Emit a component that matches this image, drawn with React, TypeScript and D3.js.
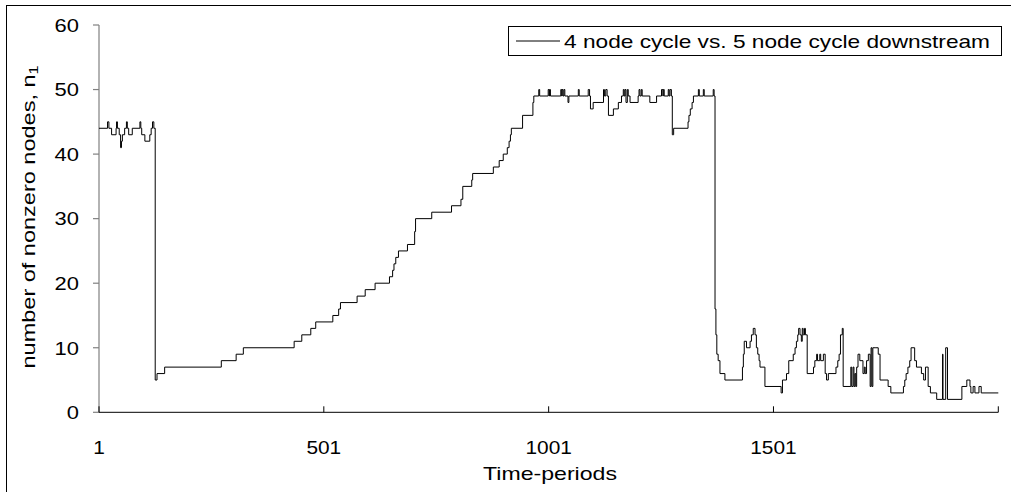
import React from 'react';
import * as d3 from 'd3';

// step series: value changes at these time-periods
const changeTimes = [
  1, 20, 23, 29, 39, 40, 42, 46, 49, 51, 53, 58, 62, 64, 67, 75, 92, 94, 96, 103, 114, 117, 120, 123,
  126, 130, 147, 273, 306, 322, 435, 452, 472, 483, 521, 534, 538, 575, 593, 615, 647, 654, 657, 661, 667,
  687, 703, 705, 741, 785, 806, 810, 830, 832, 878, 891, 900, 909, 913, 916, 918, 943, 966, 968,
  979, 981, 1000, 1002, 1003, 1005, 1028, 1030, 1031, 1033, 1035, 1037, 1044, 1046, 1067, 1069, 1089, 1092,
  1094, 1100, 1123, 1125, 1128, 1131, 1134, 1145, 1156, 1163, 1167, 1169, 1171, 1173, 1176, 1178, 1182,
  1200, 1202, 1204, 1207, 1209, 1226, 1241, 1252, 1255, 1256, 1258, 1267, 1269, 1271, 1274, 1276, 1279,
  1311, 1313, 1316, 1320, 1323, 1334, 1336, 1345, 1347, 1367, 1369,
  1371, 1373, 1375, 1378, 1382, 1393, 1432, 1434, 1436, 1441, 1449, 1452, 1456, 1460, 1463, 1466, 1469,
  1471, 1482, 1518, 1521, 1530, 1535, 1545, 1549, 1552, 1555, 1557, 1560, 1563, 1565, 1567, 1570, 1572,
  1576, 1590, 1593, 1597, 1599, 1604, 1606, 1612, 1616, 1619, 1623, 1640, 1644, 1647, 1650, 1654, 1656,
  1673, 1675, 1678, 1680, 1682, 1684, 1686, 1689, 1693, 1700, 1703, 1705, 1708, 1712, 1716, 1718, 1720,
  1722, 1727, 1734, 1738, 1756, 1762, 1790, 1793, 1796, 1800, 1804, 1807, 1815, 1819, 1830, 1835, 1839,
  1845, 1850, 1864, 1877, 1878, 1884, 1888, 1920, 1931, 1938, 1940, 1945, 1949, 1958, 1963,
];
const changeValues = [
  44, 45, 44, 43, 44, 45, 44, 43, 41, 42, 43, 44, 45, 44, 43, 44, 45, 44, 43, 42, 43, 44, 45, 44,
  5, 6, 7, 8, 9, 10, 11, 12, 13, 14, 15, 16, 17, 18, 19, 20, 21, 22, 23, 24, 25,
  26, 28, 30, 31, 32, 33, 35, 36, 37, 38, 39, 40, 41, 42, 43, 44, 46, 48, 49,
  50, 49, 50, 49, 50, 49, 50, 49, 50, 49, 50, 49, 48, 49, 50, 49, 50, 49,
  47, 48, 50, 49, 50, 49, 46, 47, 48, 49, 50, 49, 50, 48, 50, 49, 48,
  49, 50, 49, 50, 49, 48, 49, 50, 49, 50, 49, 50, 49, 50, 49, 43, 44,
  45, 46, 47, 48, 49, 50, 49, 50, 49, 50, 49,
  16, 12, 9, 8, 6, 5, 7, 9, 11, 10, 11, 12, 13, 12, 10, 9, 8,
  7, 4, 3, 5, 6, 8, 9, 10, 11, 12, 13, 12, 11, 13, 12, 13, 12,
  6, 7, 8, 9, 8, 9, 8, 9, 6, 5, 6, 7, 8, 9, 12, 13, 4,
  7, 4, 7, 4, 6, 4, 7, 9, 8, 6, 7, 6, 8, 9, 4, 10, 4,
  10, 10, 9, 5, 4, 3, 4, 5, 6, 7, 8, 10, 8, 7, 6, 5, 7,
  4, 3, 2, 9, 2, 10, 2, 4, 5, 4, 3, 4, 3, 4, 3,
];
const lastPeriod = 2001;

const xTickValues = [1, 501, 1001, 1501, 2001];
const xTickLabels = ['1', '501', '1001', '1501', ''];
const yTickValues = [0, 10, 20, 30, 40, 50, 60];

const seriesName = '4 node cycle vs. 5 node cycle downstream';
const xTitle = 'Time-periods';
const yTitle = 'number of nonzero nodes, n';
const yTitleSub = '1';

const FONT = 'Liberation Sans, Arial, Helvetica, sans-serif';

export default function App() {
  const W = 1011;
  const H = 492;
  const x = d3.scaleLinear().domain([1, 2001]).range([99, 998.3]);
  const y = d3.scaleLinear().domain([0, 60]).range([412.3, 25]);

  const pts: [number, number][] = changeTimes.map((t, i) => [t, changeValues[i]]);
  pts.push([lastPeriod, changeValues[changeValues.length - 1]]);
  const line = d3
    .line<[number, number]>()
    .x((d) => x(d[0]))
    .y((d) => y(d[1]))
    .curve(d3.curveStepAfter);

  const x0 = x(1);
  const y0 = y(0);

  return (
    <svg
      width={W}
      height={H}
      style={{ position: 'absolute', left: 0, top: 0, background: '#fff' }}
      fontFamily={FONT}
    >
      <rect x={0} y={0} width={W} height={H} fill="#fff" />
      <rect x={6.5} y={5.5} width={W + 10} height={H + 10} fill="none" stroke="#000" strokeWidth={1} />

      {/* y axis */}
      <line x1={x0} x2={x0} y1={y(60)} y2={y0} stroke="#808080" strokeWidth={1.2} />
      {yTickValues.map((v) => (
        <g key={'yt' + v}>
          <line x1={x0 - 6} x2={x0} y1={y(v)} y2={y(v)} stroke="#808080" strokeWidth={1.2} />
          <text
            x={79}
            y={y(v) + 6.8}
            fontSize={19}
            textAnchor="end"
            textLength={String(v).length * 12.2}
            lengthAdjust="spacingAndGlyphs"
            fill="#000"
          >
            {v}
          </text>
        </g>
      ))}

      {/* x axis */}
      <line x1={x0} x2={x(2001)} y1={y0} y2={y0} stroke="#000" strokeWidth={1} />
      {xTickValues.map((t, i) => (
        <g key={'xt' + t}>
          <line x1={x(t)} x2={x(t)} y1={y0 - 6} y2={y0} stroke="#000" strokeWidth={1} />
          {xTickLabels[i] && (
            <text
              x={x(t)}
              y={454}
              fontSize={19}
              textAnchor="middle"
              textLength={xTickLabels[i].length * 11.6}
              lengthAdjust="spacingAndGlyphs"
              fill="#000"
            >
              {xTickLabels[i]}
            </text>
          )}
        </g>
      ))}

      {/* series */}
      <path d={line(pts) || ''} fill="none" stroke="#000" strokeWidth={1} />

      {/* titles */}
      <text x={550} y={480} fontSize={19} textAnchor="middle" textLength={134} lengthAdjust="spacingAndGlyphs">
        {xTitle}
      </text>
      <text
        transform="translate(35,217) rotate(-90)"
        fontSize={19}
        textAnchor="middle"
        textLength={303}
        lengthAdjust="spacingAndGlyphs"
      >
        {yTitle}
        <tspan fontSize={13} dy={3}>
          {yTitleSub}
        </tspan>
      </text>

      {/* legend */}
      <rect x={508.5} y={26.5} width={493} height={29} fill="#fff" stroke="#000" strokeWidth={1} />
      <line x1={516} x2={560} y1={41} y2={41} stroke="#000" strokeWidth={1} />
      <text x={564} y={47.5} fontSize={19} textLength={426} lengthAdjust="spacingAndGlyphs">
        {seriesName}
      </text>
    </svg>
  );
}
